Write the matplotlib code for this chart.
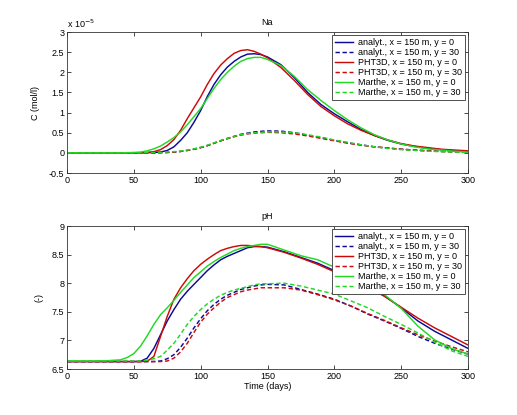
import matplotlib
matplotlib.use("Agg")
import matplotlib.pyplot as plt
from matplotlib.ticker import FuncFormatter, MultipleLocator

plt.rcParams['font.family'] = ['Liberation Sans', 'DejaVu Sans']

# ---------------- Na data (units of 1e-5 mol/l) ----------------
t_na = [0, 20, 40, 50, 55, 60, 65, 70, 75, 80, 85, 90, 95, 100, 105, 110, 115, 120, 125,
        130, 135, 140, 145, 150, 160, 170, 180, 190, 200, 210, 220, 230, 240, 250,
        260, 270, 280, 290, 300]
na_analyt_y0 = [0, 0, 0, 0, 0, 0.005, 0.01, 0.02, 0.06, 0.15, 0.31, 0.5, 0.76, 1.05, 1.4, 1.7,
                1.94, 2.13, 2.27, 2.38, 2.45, 2.46, 2.44, 2.38, 2.19, 1.87, 1.5, 1.2, 0.97,
                0.77, 0.58, 0.43, 0.31, 0.22, 0.16, 0.11, 0.08, 0.05, 0.03]
na_analyt_y30 = [0, 0, 0, 0, 0, 0, 0, 0.005, 0.01, 0.02, 0.035, 0.06, 0.09, 0.13, 0.18, 0.24,
                 0.3, 0.36, 0.41, 0.46, 0.49, 0.52, 0.535, 0.545, 0.54, 0.5, 0.44, 0.38, 0.31,
                 0.25, 0.2, 0.15, 0.12, 0.09, 0.07, 0.05, 0.035, 0.025, 0.02]
na_pht3d_y0 = [0, 0, 0, 0, 0, 0.01, 0.03, 0.08, 0.18, 0.33, 0.56, 0.85, 1.12, 1.39, 1.7, 1.97,
               2.18, 2.34, 2.47, 2.54, 2.56, 2.52, 2.45, 2.36, 2.12, 1.8, 1.45, 1.15, 0.92,
               0.72, 0.56, 0.43, 0.32, 0.23, 0.17, 0.13, 0.09, 0.07, 0.05]
na_pht3d_y30 = [0, 0, 0, 0, 0, 0, 0, 0.005, 0.01, 0.02, 0.035, 0.06, 0.09, 0.13, 0.18, 0.24,
                0.3, 0.35, 0.4, 0.44, 0.47, 0.49, 0.5, 0.51, 0.5, 0.47, 0.42, 0.36, 0.3,
                0.24, 0.19, 0.15, 0.12, 0.09, 0.07, 0.05, 0.035, 0.025, 0.02]
na_marthe_y0 = [0, 0, 0, 0.01, 0.02, 0.05, 0.1, 0.17, 0.27, 0.38, 0.52, 0.7, 0.9, 1.1, 1.35, 1.6,
                1.82, 2.0, 2.15, 2.27, 2.34, 2.37, 2.37, 2.32, 2.17, 1.9, 1.57, 1.3, 1.05,
                0.82, 0.62, 0.45, 0.32, 0.22, 0.15, 0.1, 0.07, 0.04, 0.02]
na_marthe_y30 = [0, 0, 0, 0, 0, 0.005, 0.007, 0.01, 0.02, 0.03, 0.045, 0.07, 0.1, 0.14, 0.19, 0.25,
                 0.31, 0.36, 0.41, 0.45, 0.48, 0.5, 0.51, 0.52, 0.52, 0.5, 0.45, 0.39, 0.32,
                 0.26, 0.2, 0.15, 0.11, 0.08, 0.06, 0.04, 0.03, 0.02, 0.01]

# ---------------- pH data ----------------
t_ph = [0, 20, 30, 40, 45, 50, 55, 60, 65, 70, 75, 80, 85, 90, 95, 100, 105, 110, 115, 120,
        125, 130, 135, 140, 145, 150, 162.5, 175, 187.5, 200, 212.5, 225, 237.5, 250,
        262.5, 275, 287.5, 300]
ph_analyt_y0 = [6.63, 6.63, 6.63, 6.63, 6.63, 6.63, 6.635, 6.69, 6.86, 7.1, 7.34, 7.54, 7.72,
                7.86, 7.98, 8.1, 8.22, 8.32, 8.41, 8.47, 8.52, 8.57, 8.62, 8.64, 8.64, 8.63,
                8.55, 8.45, 8.35, 8.22, 8.1, 7.95, 7.78, 7.57, 7.34, 7.16, 7.01, 6.86]
ph_analyt_y30 = [6.63, 6.63, 6.63, 6.63, 6.63, 6.63, 6.63, 6.63, 6.63, 6.64, 6.68, 6.75, 6.88,
                 7.04, 7.22, 7.38, 7.52, 7.63, 7.72, 7.79, 7.84, 7.89, 7.92, 7.95, 7.97, 7.98,
                 7.97, 7.89, 7.81, 7.72, 7.6, 7.46, 7.34, 7.21, 7.07, 6.95, 6.85, 6.76]
ph_pht3d_y0 = [6.63, 6.63, 6.63, 6.63, 6.63, 6.63, 6.63, 6.635, 6.72, 7.07, 7.42, 7.72, 7.92,
               8.08, 8.22, 8.33, 8.42, 8.5, 8.57, 8.61, 8.64, 8.66, 8.66, 8.65, 8.64, 8.62,
               8.54, 8.44, 8.33, 8.2, 8.07, 7.93, 7.77, 7.58, 7.39, 7.22, 7.07, 6.92]
ph_pht3d_y30 = [6.63, 6.63, 6.63, 6.63, 6.63, 6.63, 6.63, 6.63, 6.63, 6.63, 6.64, 6.69, 6.8,
                6.95, 7.14, 7.32, 7.46, 7.57, 7.67, 7.75, 7.8, 7.85, 7.88, 7.9, 7.92, 7.92,
                7.92, 7.88, 7.8, 7.71, 7.6, 7.47, 7.35, 7.22, 7.1, 6.99, 6.89, 6.8]
ph_marthe_y0 = [6.64, 6.64, 6.645, 6.66, 6.7, 6.77, 6.9, 7.08, 7.28, 7.45, 7.57, 7.7, 7.84,
                7.97, 8.1, 8.2, 8.3, 8.38, 8.45, 8.51, 8.57, 8.61, 8.64, 8.66, 8.68, 8.68,
                8.58, 8.48, 8.41, 8.28, 8.15, 8.0, 7.8, 7.56, 7.25, 7.01, 6.86, 6.76]
ph_marthe_y30 = [6.64, 6.64, 6.64, 6.64, 6.64, 6.64, 6.64, 6.655, 6.68, 6.72, 6.83, 6.95, 7.11,
                 7.28, 7.42, 7.54, 7.64, 7.72, 7.79, 7.84, 7.88, 7.91, 7.94, 7.97, 7.99, 7.99,
                 8.0, 7.95, 7.88, 7.81, 7.69, 7.57, 7.42, 7.28, 7.13, 6.97, 6.82, 6.72]

labels = ['analyt., x = 150 m, y = 0', 'analyt., x = 150 m, y = 30',
          'PHT3D, x = 150 m, y = 0', 'PHT3D, x = 150 m, y = 30',
          'Marthe, x = 150 m, y = 0', 'Marthe, x = 150 m, y = 30']
colors = ['#0a0a9a', '#0a0a9a', '#cc0a0a', '#cc0a0a', '#22d822', '#22d822']
styles = ['-', '--', '-', '--', '-', '--']

FS = 6.5
fig = plt.figure(figsize=(5.17, 4.15), dpi=100)
ax1 = fig.add_axes([67/517, 1-173/415, 401/517, 141/415])
ax2 = fig.add_axes([67/517, 1-369/415, 401/517, 143/415])

fmt = FuncFormatter(lambda v, p: ('%g' % v))

def style_axes(ax):
    ax.tick_params(direction='in', top=True, right=True, labelsize=FS, length=3,
                   width=0.5, pad=2)
    for s in ax.spines.values():
        s.set_linewidth(0.6)
        s.set_color('#333333')
    ax.xaxis.set_major_formatter(fmt)
    ax.yaxis.set_major_formatter(fmt)
    ax.set_xlim(0, 300)
    ax.xaxis.set_major_locator(MultipleLocator(50))
    ax.yaxis.set_major_locator(MultipleLocator(0.5))

na_series = [na_analyt_y0, na_analyt_y30, na_pht3d_y0, na_pht3d_y30, na_marthe_y0, na_marthe_y30]
for ys, c, ls, lb in zip(na_series, colors, styles, labels):
    kw = dict(dashes=(3.0, 1.8)) if ls == '--' else {}
    ax1.plot(t_na, ys, color=c, linestyle=ls, lw=1.05, label=lb, **kw)
style_axes(ax1)
ax1.set_ylim(-0.5, 3)
ax1.set_title('Na', fontsize=FS, pad=5)
ax1.set_ylabel('C (mol/l)', fontsize=FS, labelpad=6)
ax1.text(0.0, 1.012, 'x 10$^{-5}$', transform=ax1.transAxes, fontsize=FS,
         ha='left', va='bottom')

ph_series = [ph_analyt_y0, ph_analyt_y30, ph_pht3d_y0, ph_pht3d_y30, ph_marthe_y0, ph_marthe_y30]
for ys, c, ls, lb in zip(ph_series, colors, styles, labels):
    kw = dict(dashes=(3.0, 1.8)) if ls == '--' else {}
    ax2.plot(t_ph, ys, color=c, linestyle=ls, lw=1.05, label=lb, **kw)
style_axes(ax2)
ax2.set_ylim(6.5, 9)
ax2.set_title('pH', fontsize=FS, pad=5)
ax2.set_ylabel('(-)', fontsize=FS, labelpad=6)
ax2.set_xlabel('Time (days)', fontsize=FS, labelpad=1)

for ax in (ax1, ax2):
    leg = ax.legend(loc='upper right', fontsize=FS, fancybox=False, framealpha=1,
                    edgecolor='#333333', borderpad=0.3, labelspacing=0.12,
                    handlelength=2.0, handletextpad=0.6, borderaxespad=0.35)
    leg.get_frame().set_linewidth(0.6)

fig.savefig('out.png', dpi=100)
